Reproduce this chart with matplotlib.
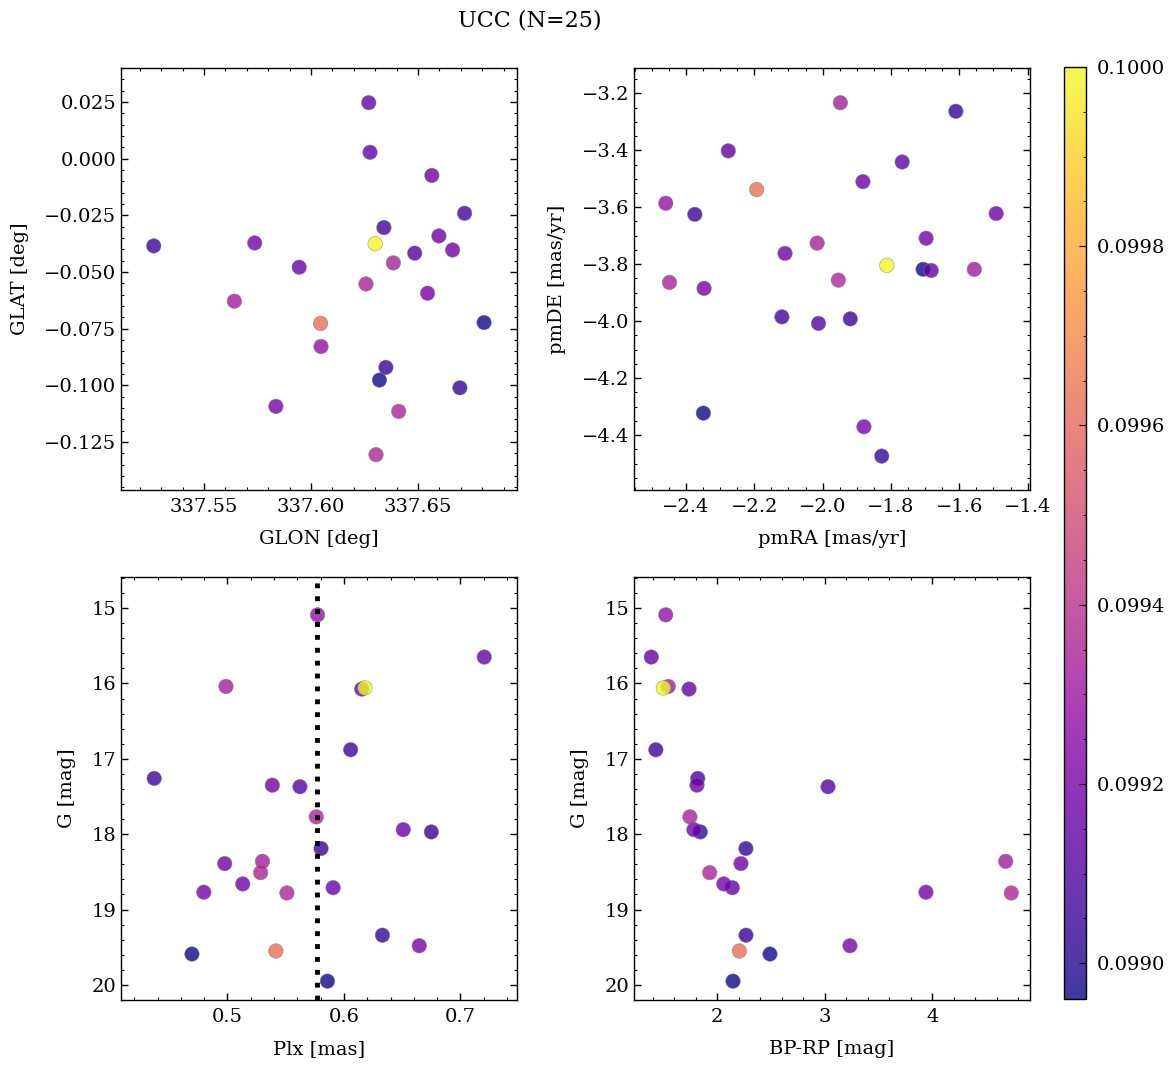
import numpy as np
import matplotlib
matplotlib.use("Agg")
import matplotlib.pyplot as plt
from matplotlib.ticker import MultipleLocator, ScalarFormatter

plt.rcParams["font.family"] = "DejaVu Serif"
plt.rcParams["axes.linewidth"] = 1.0

# 25 members, values
glon = [337.6047, 337.6270, 337.6385, 337.6300, 337.6276, 337.6718, 337.6341,
        337.6565, 337.6485, 337.6257, 337.6598, 337.5265, 337.6696, 337.6662,
        337.5642, 337.6410, 337.5737, 337.5945, 337.6545, 337.6304, 337.6350,
        337.5836, 337.6045, 337.6809, 337.6320]
glat = [-0.0829, 0.0247, -0.0460, -0.0375, 0.0028, -0.0241, -0.0304,
        -0.0074, -0.0417, -0.0553, -0.0341, -0.0385, -0.1011, -0.0403,
        -0.0629, -0.1115, -0.0372, -0.0479, -0.0594, -0.1306, -0.0921,
        -0.1093, -0.0727, -0.0723, -0.0977]
pmra = [-2.459, -2.276, -1.948, -1.812, -1.767, -2.374, -2.119, -1.882,
        -2.012, -2.016, -1.492, -1.919, -1.827, -1.697, -1.556, -2.448,
        -2.110, -1.682, -2.347, -1.954, -1.610, -1.879, -2.193, -1.706,
        -2.349]
pmde = [-3.586, -3.402, -3.233, -3.804, -3.441, -3.625, -3.985, -3.510,
        -4.008, -3.726, -3.622, -3.992, -4.474, -3.709, -3.818, -3.864,
        -3.762, -3.822, -3.885, -3.856, -3.263, -4.371, -3.538, -3.818,
        -4.323]
plx = [0.5773, 0.7204, 0.4987, 0.6180, 0.6152, 0.6057, 0.4371, 0.5385,
       0.5622, 0.5762, 0.6509, 0.6750, 0.5803, 0.4976, 0.5300, 0.5285,
       0.5131, 0.5907, 0.4797, 0.5510, 0.6330, 0.6646, 0.5415, 0.4695,
       0.5858]
gmag = [15.09, 15.65, 16.04, 16.06, 16.075, 16.88, 17.26, 17.35, 17.37,
        17.77, 17.94, 17.97, 18.19, 18.39, 18.36, 18.51, 18.66, 18.71,
        18.77, 18.78, 19.34, 19.48, 19.55, 19.59, 19.95]
bprp = [1.520, 1.386, 1.544, 1.498, 1.737, 1.428, 1.818, 1.811, 3.030,
        1.745, 1.782, 1.842, 2.266, 2.220, 4.683, 1.929, 2.060, 2.140,
        3.941, 4.735, 2.267, 3.234, 2.205, 2.490, 2.146]
prob = [0.09928, 0.09915, 0.09933, 0.10000, 0.09914, 0.09905, 0.09906,
        0.09918, 0.09910, 0.09934, 0.09917, 0.09904, 0.09903, 0.09918,
        0.09932, 0.09935, 0.09919, 0.09916, 0.09920, 0.09936, 0.09903,
        0.09921, 0.09962, 0.09897, 0.09896]
plx_median = 0.577

order = np.argsort(prob)
glon, glat, pmra, pmde = (np.array(a)[order] for a in (glon, glat, pmra, pmde))
plx, gmag, bprp, prob = (np.array(a)[order] for a in (plx, gmag, bprp, prob))

fig = plt.figure(figsize=(11.73, 10.67), dpi=100)
W, H = 1173, 1067


def add_ax(x0, y0, x1, y1):
    return fig.add_axes([x0 / W, 1 - y1 / H, (x1 - x0) / W, (y1 - y0) / H])


ax1 = add_ax(121, 68, 517, 490)
ax2 = add_ax(634, 68, 1030, 490)
ax3 = add_ax(121, 577, 517, 1000)
ax4 = add_ax(634, 577, 1030, 1000)
cax = add_ax(1064, 67, 1086, 999)

kw = dict(c=prob, cmap="plasma", s=110, alpha=0.8, edgecolors="grey",
          linewidths=0.4, zorder=3)

sc = ax1.scatter(glon, glat, **kw)
ax1.set_xlim(337.5112, 337.6963)
ax1.set_ylim(-0.1462, 0.0400)
ax1.set_xlabel("GLON [deg]")
ax1.set_ylabel("GLAT [deg]")
ax1.xaxis.set_major_locator(MultipleLocator(0.05))
ax1.xaxis.set_minor_locator(MultipleLocator(0.01))
ax1.yaxis.set_major_locator(MultipleLocator(0.025))
ax1.yaxis.set_minor_locator(MultipleLocator(0.005))

ax2.scatter(pmra, pmde, **kw)
ax2.set_xlim(-2.552, -1.393)
ax2.set_ylim(-4.593, -3.111)
ax2.set_xlabel("pmRA [mas/yr]")
ax2.set_ylabel("pmDE [mas/yr]")
for a in (ax2.xaxis, ax2.yaxis):
    a.set_major_locator(MultipleLocator(0.2))
    a.set_minor_locator(MultipleLocator(0.05))

ax3.scatter(plx, gmag, **kw)
ax3.axvline(plx_median, color="k", ls=":", lw=3.5, zorder=4)
ax3.set_xlim(0.4086, 0.7485)
ax3.set_ylim(20.2, 14.588)
ax3.set_xlabel("Plx [mas]")
ax3.set_ylabel("G [mag]")
ax3.xaxis.set_major_locator(MultipleLocator(0.1))
ax3.xaxis.set_minor_locator(MultipleLocator(0.02))

ax4.scatter(bprp, gmag, **kw)
ax4.set_xlim(1.225, 4.909)
ax4.set_ylim(20.2, 14.588)
ax4.set_xlabel("BP-RP [mag]")
ax4.set_ylabel("G [mag]")
ax4.xaxis.set_major_locator(MultipleLocator(1))
ax4.xaxis.set_minor_locator(MultipleLocator(0.2))

for ax in (ax3, ax4):
    ax.yaxis.set_major_locator(MultipleLocator(1))
    ax.yaxis.set_minor_locator(MultipleLocator(0.2))

for ax in (ax1, ax2, ax3, ax4):
    for a in (ax.xaxis, ax.yaxis):
        fmt = ScalarFormatter(useOffset=False)
        a.set_major_formatter(fmt)
    ax.tick_params(which="both", direction="in", top=True, right=True,
                   labelsize=14)
    ax.tick_params(which="major", length=5, width=1)
    ax.tick_params(which="minor", length=2.5, width=0.8)
    ax.tick_params(axis="x", which="major", pad=6)
    ax.xaxis.label.set_size(14)
    ax.yaxis.label.set_size(14)
    ax.xaxis.labelpad = 10
    ax.yaxis.labelpad = 11

cb = fig.colorbar(sc, cax=cax)
cb.set_ticks(np.arange(0.0990, 0.10001, 0.0002))
cb.ax.yaxis.set_major_formatter(lambda v, pos: f"{v:.4f}")
cb.ax.yaxis.set_minor_locator(MultipleLocator(0.00005))
cb.ax.tick_params(which="both", direction="in", labelsize=14)
cb.ax.tick_params(which="major", length=5, pad=7.5)
cb.ax.tick_params(which="minor", length=2.5)

fig.suptitle("UCC (N=25)", x=530 / W, y=1 - 20 / H, va="center", fontsize=16)

fig.savefig("out.png", dpi=100)
